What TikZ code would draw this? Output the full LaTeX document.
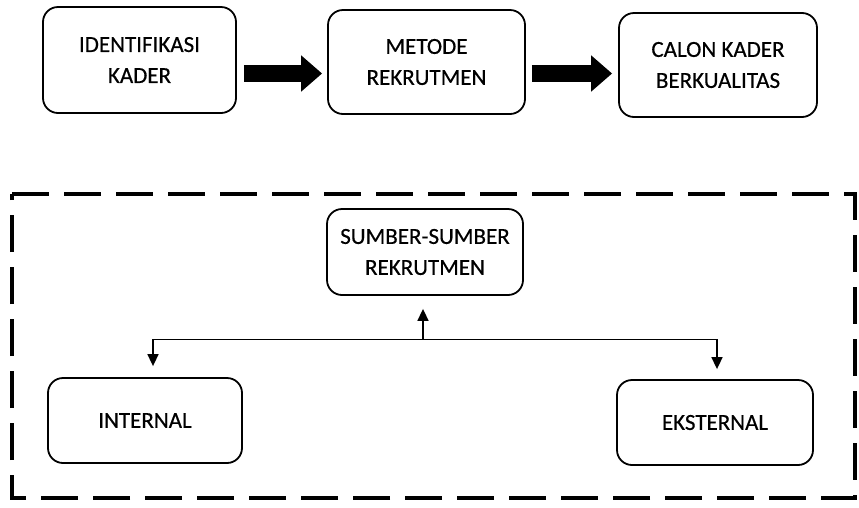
\documentclass[tikz,border=0pt]{standalone}
\usepackage{fontspec}
\setmainfont{Carlito}
\newfontfamily\boxfont{Carlito}[FakeBold=0.5]
\usetikzlibrary{arrows.meta}
\begin{document}
\begin{tikzpicture}[x=1pt,y=-1pt,
  box/.style={draw=black, line width=1.8pt, rounded corners=15pt, inner sep=0pt,
    align=center, font=\boxfont\fontsize{23}{31}\selectfont},
  bigarrow/.style={line width=17pt, -{Triangle[width=35pt,length=21pt]}},
  conn/.style={line width=1.6pt, -{Triangle[width=11pt,length=12pt]}},
  dashbox/.style={line width=4pt, dash pattern=on 37pt off 15pt}]
\useasboundingbox (0,0) rectangle (859,507);
% top row
\node[box, minimum width=193pt, minimum height=106pt] (b1) at (139.5,60) {IDENTIFIKASI\\KADER};
\node[box, minimum width=197pt, minimum height=104pt] (b2) at (426.5,62) {METODE\\REKRUTMEN};
\node[box, minimum width=198pt, minimum height=104pt] (b3) at (718,65) {CALON KADER\\BERKUALITAS};
\coordinate (arow) at (0,73.5);
\draw[bigarrow, shorten <=7pt, shorten >=5pt] (b1.east |- arow) -- (b2.west |- arow);
\draw[bigarrow, shorten <=6pt, shorten >=6pt] (b2.east |- arow) -- (b3.west |- arow);
% dashed frame
\draw[dashbox] (12,194) -- (855,194) -- (855,498) -- (12,498) -- cycle;
% bottom part
\node[box, minimum width=196pt, minimum height=86pt] (sb) at (425,252) {SUMBER-SUMBER\\REKRUTMEN};
\node[box, minimum width=194pt, minimum height=85pt] (int) at (145,420.5) {INTERNAL};
\node[box, minimum width=196pt, minimum height=85pt] (eks) at (715,422.5) {EKSTERNAL};
\coordinate (hm) at (423,339.5);
\coordinate (hl) at (153,339.5);
\coordinate (hr) at (717,339.5);
\draw[conn, shorten >=13pt] (hm) -- (hm |- sb.south);
\draw[conn, shorten >=11pt] (hm) -- (hl) -- (hl |- int.north);
\draw[conn, shorten >=10pt] (hm) -- (hr) -- (hr |- eks.north);
\end{tikzpicture}
\end{document}
